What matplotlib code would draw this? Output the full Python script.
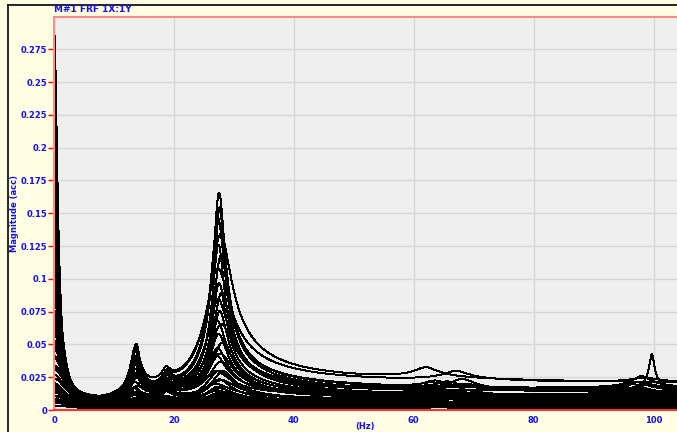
"""
plot.py
=======
Overlay of FRF magnitudes (M#1 FRF 1X:1Y), one black trace per measurement.
"""

import numpy as np
import matplotlib.pyplot as plt
from matplotlib.lines import Line2D

# ---------------------------------------------------------------------------
# Data: modal parameters, one entry per trace
# ---------------------------------------------------------------------------
# rigid-body part near 0 Hz: value at 0 Hz and corner frequency
dc_amp = [0.290, 0.150, 0.265, 0.090, 0.245, 0.120, 0.220, 0.070, 0.195, 0.105,
          0.175, 0.060, 0.140, 0.080, 0.160, 0.050, 0.110, 0.045, 0.130, 0.040,
          0.095, 0.035, 0.085, 0.030, 0.075, 0.026, 0.065, 0.022, 0.055, 0.019,
          0.048, 0.016, 0.042, 0.014, 0.036, 0.012, 0.030, 0.010, 0.025, 0.008,
          0.020, 0.015, 0.012, 0.010, 0.009, 0.007, 0.006, 0.005, 0.004, 0.003]
dc_corner = [0.70, 1.1, 0.70, 1.4, 0.75, 1.2, 0.80, 1.5, 0.85, 1.3,
             0.90, 1.7, 0.95, 1.5, 0.85, 1.9, 1.00, 2.0, 0.95, 2.1,
             1.10, 2.2, 1.20, 2.3, 1.30, 2.4, 1.40, 2.6, 1.50, 2.6,
             1.60, 2.8, 1.80, 2.8, 2.00, 3.0, 2.10, 3.0, 2.30, 3.2,
             2.50, 3.0, 2.80, 3.2, 3.00, 3.4, 3.50, 3.6, 3.80, 4.0]

# mode near 13.6 Hz
p14 = [0.043, 0.025, 0.040, 0.018, 0.038, 0.033, 0.036, 0.015, 0.034, 0.029,
       0.031, 0.012, 0.026, 0.022, 0.037, 0.010, 0.023, 0.020, 0.030, 0.008,
       0.021, 0.016, 0.013, 0.007, 0.011, 0.006, 0.009, 0.005, 0.008, 0.004,
       0.007, 0.004, 0.005, 0.003, 0.004, 0.003, 0.003, 0.002, 0.002, 0.001,
       0.003, 0.002, 0.004, 0.001, 0.002, 0.003, 0.001, 0.002, 0.001, 0.001]
f14 = [13.7, 13.6, 13.5, 13.8, 13.6, 13.4, 13.7, 13.5, 13.6, 13.8,
       13.5, 13.9, 13.6, 13.4, 13.7, 13.3, 13.6, 13.8, 13.5, 13.2,
       13.6, 13.9, 13.4, 13.7, 13.5, 13.3, 13.8, 13.6, 13.4, 14.0,
       13.5, 13.7, 13.3, 13.6, 13.9, 13.4, 13.7, 13.5, 13.6, 13.8,
       13.5, 13.8, 13.6, 13.4, 13.7, 13.5, 13.9, 13.6, 13.3, 13.7]
z14 = [0.045, 0.055, 0.050, 0.065, 0.045, 0.060, 0.050, 0.070, 0.055, 0.060,
       0.055, 0.075, 0.060, 0.065, 0.050, 0.075, 0.065, 0.070, 0.055, 0.080,
       0.065, 0.070, 0.075, 0.080, 0.070, 0.085, 0.075, 0.080, 0.085, 0.085,
       0.080, 0.085, 0.090, 0.085, 0.090, 0.095, 0.090, 0.095, 0.095, 0.095,
       0.085, 0.095, 0.080, 0.095, 0.090, 0.085, 0.095, 0.095, 0.095, 0.095]

# mode near 18.8 Hz
p19 = [0.012, 0.007, 0.012, 0.010, 0.008, 0.014, 0.011, 0.016, 0.009, 0.005,
       0.012, 0.008, 0.013, 0.006, 0.010, 0.012, 0.007, 0.010, 0.005, 0.008,
       0.007, 0.005, 0.009, 0.006, 0.004, 0.007, 0.003, 0.005, 0.003, 0.004,
       0.003, 0.004, 0.002, 0.003, 0.002, 0.002, 0.002, 0.002, 0.001, 0.001,
       0.002, 0.001, 0.002, 0.001, 0.002, 0.001, 0.001, 0.002, 0.001, 0.001]
f19 = [18.8, 18.7, 18.9, 18.8, 18.6, 18.9, 18.7, 18.8, 19.0, 18.6,
       18.8, 18.7, 18.9, 18.5, 18.8, 18.7, 19.0, 18.8, 18.6, 18.9,
       18.7, 18.8, 18.9, 18.6, 18.8, 19.1, 18.7, 18.8, 18.5, 18.9,
       18.7, 18.8, 19.0, 18.6, 18.8, 18.7, 18.9, 18.8, 18.6, 18.8,
       18.7, 18.9, 18.8, 18.6, 19.0, 18.8, 18.7, 18.9, 18.8, 18.6]
z19 = [0.030, 0.035, 0.028, 0.040, 0.032, 0.030, 0.036, 0.028, 0.040, 0.045,
       0.032, 0.040, 0.030, 0.045, 0.035, 0.032, 0.045, 0.036, 0.050, 0.040,
       0.042, 0.050, 0.040, 0.050, 0.055, 0.045, 0.055, 0.050, 0.060, 0.050,
       0.055, 0.050, 0.060, 0.055, 0.060, 0.060, 0.065, 0.060, 0.070, 0.065,
       0.060, 0.065, 0.070, 0.060, 0.065, 0.070, 0.060, 0.065, 0.070, 0.070]

# dominant mode near 27.5 Hz
p28 = [0.160, 0.150, 0.140, 0.128, 0.120, 0.112, 0.100, 0.092, 0.085, 0.078,
       0.070, 0.064, 0.058, 0.052, 0.047, 0.042, 0.038, 0.034, 0.030, 0.027,
       0.024, 0.021, 0.019, 0.017, 0.015, 0.013, 0.012, 0.010, 0.009, 0.008,
       0.007, 0.006, 0.005, 0.005, 0.004, 0.004, 0.003, 0.003, 0.002, 0.002,
       0.012, 0.009, 0.007, 0.006, 0.005, 0.004, 0.003, 0.003, 0.002, 0.001]
f28 = [27.5, 27.6, 27.3, 27.7, 27.4, 27.8, 27.2, 27.5, 27.9, 27.3,
       27.6, 27.1, 27.8, 27.4, 28.0, 27.2, 27.6, 26.9, 27.7, 27.4,
       28.1, 27.0, 27.5, 27.8, 27.3, 26.8, 27.6, 28.2, 27.1, 27.5,
       27.9, 27.2, 27.4, 28.0, 26.9, 27.6, 27.3, 27.8, 27.1, 27.5,
       27.4, 27.7, 27.2, 27.9, 27.5, 27.1, 27.6, 28.0, 27.3, 27.5]
z28 = [0.035, 0.030, 0.040, 0.062, 0.035, 0.045, 0.070, 0.040, 0.050, 0.060,
       0.045, 0.055, 0.070, 0.050, 0.060, 0.055, 0.070, 0.060, 0.065, 0.070,
       0.060, 0.075, 0.065, 0.080, 0.070, 0.085, 0.075, 0.080, 0.090, 0.085,
       0.090, 0.095, 0.090, 0.100, 0.095, 0.100, 0.100, 0.100, 0.100, 0.100,
       0.080, 0.090, 0.100, 0.085, 0.095, 0.100, 0.090, 0.100, 0.100, 0.100]

# broad humps between 60 and 70 Hz
hA_amp = [0.004, 0.010, 0.000, 0.009, 0.006, 0.000, 0.008, 0.003, 0.000, 0.007,
          0.005, 0.000, 0.007, 0.009, 0.002, 0.000, 0.006, 0.004, 0.000, 0.008,
          0.003, 0.005, 0.000, 0.006, 0.002, 0.004, 0.000, 0.005, 0.003, 0.000,
          0.004, 0.002, 0.003, 0.000, 0.002, 0.003, 0.001, 0.002, 0.000, 0.001,
          0.003, 0.000, 0.002, 0.004, 0.000, 0.002, 0.001, 0.003, 0.000, 0.002]
hA_freq = [63.0, 68.0, 65.0, 62.0, 68.5, 64.0, 67.0, 61.0, 66.0, 63.5,
           68.0, 60.0, 65.5, 62.5, 69.0, 64.0, 66.5, 61.5, 67.5, 63.0,
           70.0, 64.5, 66.0, 62.0, 68.0, 60.5, 65.0, 67.0, 63.0, 69.0,
           61.0, 66.0, 64.0, 68.0, 62.0, 65.0, 67.0, 63.0, 66.0, 64.0,
           65.0, 62.0, 68.0, 64.0, 66.0, 61.0, 69.0, 63.0, 67.0, 65.0]

# humps around 95-100 Hz (one sharp line at 99.7 Hz)
hB_amp = [0.006, 0.003, 0.010, 0.000, 0.008, 0.029, 0.004, 0.009, 0.000, 0.005,
          0.007, 0.003, 0.000, 0.006, 0.004, 0.008, 0.000, 0.005, 0.003, 0.006,
          0.000, 0.004, 0.005, 0.002, 0.000, 0.003, 0.004, 0.000, 0.003, 0.002,
          0.000, 0.002, 0.003, 0.002, 0.000, 0.002, 0.001, 0.002, 0.001, 0.000,
          0.002, 0.003, 0.000, 0.002, 0.001, 0.003, 0.000, 0.002, 0.001, 0.002]
hB_freq = [97.5, 96.0, 98.0, 95.0, 97.0, 99.7, 98.5, 96.5, 97.0, 99.0,
           98.0, 95.5, 97.0, 98.5, 96.0, 97.5, 99.0, 96.5, 98.0, 97.0,
           95.0, 98.5, 96.0, 99.0, 97.5, 96.5, 98.0, 97.0, 95.5, 99.5,
           97.0, 98.0, 96.0, 99.0, 97.5, 96.5, 98.5, 97.0, 95.5, 98.0,
           97.0, 98.5, 96.0, 99.0, 97.5, 96.5, 98.0, 97.0, 99.5, 96.0]
hB_zeta = [0.020, 0.025, 0.015, 0.020, 0.018, 0.004, 0.020, 0.015, 0.020, 0.012,
           0.018, 0.025, 0.020, 0.015, 0.022, 0.016, 0.020, 0.018, 0.024, 0.015,
           0.020, 0.012, 0.022, 0.014, 0.020, 0.018, 0.015, 0.020, 0.025, 0.010,
           0.020, 0.015, 0.022, 0.012, 0.020, 0.018, 0.015, 0.020, 0.024, 0.020,
           0.020, 0.015, 0.020, 0.012, 0.020, 0.018, 0.020, 0.015, 0.010, 0.020]

# measurement noise floor of each trace
floor = [0.002, 0.002, 0.003, 0.003, 0.003, 0.002, 0.004, 0.002, 0.001, 0.003,
         0.002, 0.002, 0.004, 0.003, 0.001, 0.003, 0.002, 0.005, 0.004, 0.001,
         0.003, 0.006, 0.002, 0.004, 0.001, 0.005, 0.003, 0.002, 0.004, 0.001,
         0.003, 0.002, 0.005, 0.001, 0.004, 0.002, 0.003, 0.001, 0.002, 0.0005,
         0.0003, 0.001, 0.0015, 0.0005, 0.002, 0.0008, 0.0012, 0.0004, 0.0025, 0.0002]

x_ticks = [0, 20, 40, 60, 80, 100]
y_ticks = [0, 0.025, 0.05, 0.075, 0.1, 0.125, 0.15, 0.175, 0.2, 0.225, 0.25, 0.275]
y_tick_labels = ["0", "0.025", "0.05", "0.075", "0.1", "0.125", "0.15",
                 "0.175", "0.2", "0.225", "0.25", "0.275"]

FREQ = np.arange(0, 104.01, 0.125)

BLUE = "#1010f0"
PAPER = "#fffde4"


def accelerance(f, fn, zeta):
    """SDOF accelerance magnitude, normalised to 1 at resonance."""
    r = f / fn
    return 2 * zeta * r ** 2 / np.sqrt((1 - r ** 2) ** 2 + (2 * zeta * r) ** 2)


def mobility(f, fn, zeta):
    """SDOF mobility magnitude, normalised to 1 at resonance."""
    r = f / fn
    return 2 * zeta * r / np.sqrt((1 - r ** 2) ** 2 + (2 * zeta * r) ** 2)


def trace(i):
    y = dc_amp[i] / (1 + (FREQ / dc_corner[i]) ** 2)
    y = y + p14[i] * mobility(FREQ, f14[i], z14[i])
    y = y + p19[i] * mobility(FREQ, f19[i], z19[i])
    y = y + p28[i] * accelerance(FREQ, f28[i], z28[i])
    y = y + hA_amp[i] * accelerance(FREQ, hA_freq[i], 0.03)
    y = y + hB_amp[i] * accelerance(FREQ, hB_freq[i], hB_zeta[i])
    return y + floor[i]


# ---------------------------------------------------------------------------
# Figure
# ---------------------------------------------------------------------------
fig = plt.figure(figsize=(6.77, 4.32), dpi=100, facecolor=PAPER)
ax = fig.add_axes([54 / 677, 1 - 410 / 432, 623 / 677, 393 / 432])
ax.set_facecolor("#efefef")

for i in range(len(p28)):
    ax.plot(FREQ, trace(i), color="black", lw=0.7, antialiased=False)

ax.set_xlim(0, 103.9)
ax.set_ylim(0, 0.2996)
ax.set_xticks(x_ticks)
ax.set_yticks(y_ticks)
ax.set_yticklabels(y_tick_labels)
ax.grid(True, color="#d6d6d6", lw=1)
ax.set_axisbelow(True)

ax.tick_params(axis="y", direction="out", length=4, width=1, color="red",
               pad=1, labelcolor=BLUE, labelsize=6)
ax.tick_params(axis="x", direction="in", length=3, width=1, color="red",
               pad=4, labelcolor=BLUE, labelsize=6)
for lab in ax.get_xticklabels() + ax.get_yticklabels():
    lab.set_fontweight("bold")

for side in ["top", "left"]:
    ax.spines[side].set_color("#ff8a8a")
    ax.spines[side].set_linewidth(1.5)
ax.spines["bottom"].set_color("#ff3030")
ax.spines["bottom"].set_linewidth(1.5)
ax.spines["right"].set_visible(False)

ax.set_ylabel("Magnitude (acc)", color=BLUE, fontsize=6, fontweight="bold")
ax.yaxis.set_label_coords(-0.056, 0.5)
ax.set_xlabel("(Hz)", color=BLUE, fontsize=6, fontweight="bold", labelpad=-2)

fig.text(54 / 677, 1 - 10 / 432, "M#1 FRF 1X:1Y", color=BLUE, fontsize=6.5,
         fontweight="bold", ha="left", va="center")

# outer window frame (left and top edges)
fig.add_artist(Line2D([8 / 677, 8 / 677], [0, 1 - 5 / 432], color="black", lw=1.2))
fig.add_artist(Line2D([8 / 677, 1], [1 - 5 / 432, 1 - 5 / 432], color="black", lw=1.2))

fig.savefig("out.png", dpi=100, facecolor=PAPER)
